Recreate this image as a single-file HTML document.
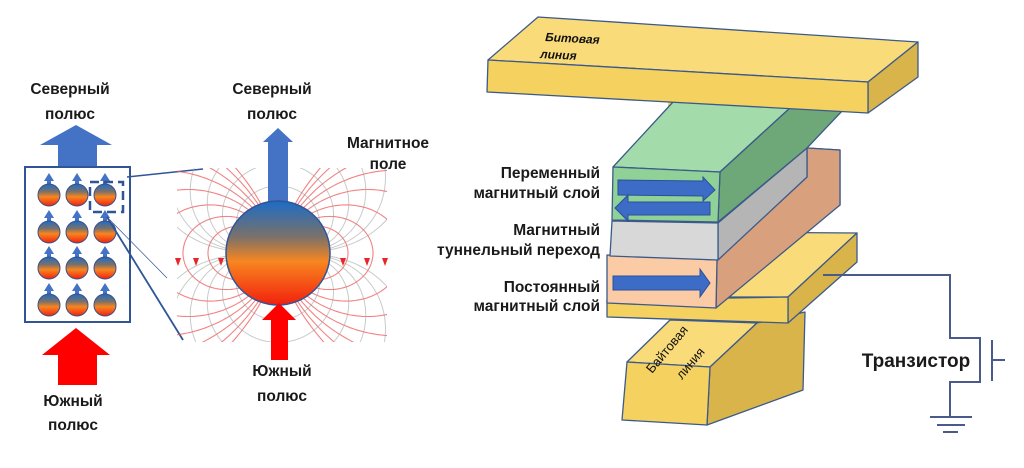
<!DOCTYPE html>
<html><head><meta charset="utf-8"><style>
html,body{margin:0;padding:0;background:#fff;}
svg{display:block}
.lb{font-family:"Liberation Sans","DejaVu Sans",sans-serif;font-weight:bold;fill:#1a1a1a;}
</style></head><body>
<svg id="s" width="1024" height="468" viewBox="0 0 1024 468" xmlns="http://www.w3.org/2000/svg">
<defs>
<linearGradient id="g" x1="0" y1="0" x2="0" y2="1">
<stop offset="0" stop-color="#1c6cc6"/><stop offset="0.35" stop-color="#7d7168"/><stop offset="0.58" stop-color="#f7861f"/><stop offset="1" stop-color="#f2200e"/>
</linearGradient>
<clipPath id="fc"><rect x="177" y="168" width="210" height="174"/></clipPath>
</defs>
<rect width="1024" height="468" fill="#fff"/>

<!-- LEFT PANEL -->
<text class="lb" x="70" y="94" font-size="15.5" text-anchor="middle">Северный</text>
<text class="lb" x="70" y="119" font-size="15.5" text-anchor="middle">полюс</text>
<polygon points="40,145 76,125 112,145 97,145 97,167 58,167 58,145" fill="#4472c4"/>
<rect x="25" y="167" width="105" height="155" fill="#fff" stroke="#2f5597" stroke-width="2"/>
<g id="cells"></g>
<rect x="90" y="182" width="33" height="30" fill="none" stroke="#2f5597" stroke-width="2.5" stroke-dasharray="9,5"/>
<polygon points="42,355 76,328 110,355 97,355 97,385 58,385 58,355" fill="#ff0000"/>
<text class="lb" x="73" y="406" font-size="15.5" text-anchor="middle">Южный</text>
<text class="lb" x="73" y="430" font-size="15.5" text-anchor="middle">полюс</text>

<line x1="127" y1="177" x2="203" y2="169" stroke="#2f5597" stroke-width="1.5"/>
<line x1="107" y1="217" x2="167" y2="278" stroke="#2f5597" stroke-width="0.7"/>
<line x1="107" y1="217" x2="183" y2="340" stroke="#2f5597" stroke-width="1.8"/>

<g id="field" clip-path="url(#fc)"></g>
<g fill="#e8262a">
<polygon points="175,258 181,258 178,266"/><polygon points="193,258 199,258 196,266"/><polygon points="218,258 224,258 221,266"/>
<polygon points="340,258 346,258 343,266"/><polygon points="364,258 370,258 367,266"/><polygon points="382,258 388,258 385,266"/>
</g>
<polygon points="263,142 278,128 293,142 288,142 288,205 268,205 268,142" fill="#4472c4"/>
<circle cx="278" cy="253" r="52" fill="url(#g)" stroke="#2f5597" stroke-width="1.5"/>
<polygon points="262,320 279,303 296,320 288,320 288,360 271,360 271,320" fill="#ff0000"/>
<text class="lb" x="272" y="94" font-size="15.5" text-anchor="middle">Северный</text>
<text class="lb" x="272" y="119" font-size="15.5" text-anchor="middle">полюс</text>
<text class="lb" x="388" y="148" font-size="15.5" text-anchor="middle">Магнитное</text>
<text class="lb" x="388" y="169" font-size="15.5" text-anchor="middle">поле</text>
<text class="lb" x="282" y="376" font-size="15.5" text-anchor="middle">Южный</text>
<text class="lb" x="282" y="401" font-size="15.5" text-anchor="middle">полюс</text>

<!-- RIGHT PANEL -->
<g stroke="#3b5a8a" stroke-width="1.3" stroke-linejoin="round">
<polygon points="670,320 757,323 710,367 627,362" fill="#fadb7a"/>
<polygon points="710,367 757,323 805,312 803,390 707,425" fill="#d9b44a"/>
<polygon points="627,362 710,367 707,425 622,420" fill="#f5d160"/>
<polygon points="700,232 857,233 788,297 700,297" fill="#fadb7a"/>
<polygon points="788,297 857,233 857,262 788,323" fill="#d9b44a"/>
<polygon points="607,300 788,297 788,323 607,317" fill="#f5d160"/>
<polygon points="807,148 840,150 840,205 807,230" fill="#f8cba6"/>
<polygon points="717,260 807,177 807,148 840,150 840,205 716,308" fill="#d9a07e"/>
<polygon points="607,255 717,260 716,308 607,303" fill="#fbcba5"/>
<polygon points="718,223 807,148 807,177 718,260" fill="#b5b5b5"/>
<polygon points="612,221 718,223 718,260 610,256" fill="#d8d8d8"/>
<polygon points="668,95 700,95 690,115 668,115" fill="#f5d160" stroke="none"/>
<polygon points="613,167 720,172 790,108 673,102" fill="#a3dbaa"/>
<polygon points="720,172 790,108 843,110 807,148 718,222" fill="#6fa878"/>
<polygon points="613,167 720,172 718,222 612,220" fill="#8fd197"/>
<polygon points="538,17 918,42 868,82 488,60" fill="#fadb7a"/>
<polygon points="868,82 918,42 918,77 868,113" fill="#d9b44a"/>
<polygon points="488,60 868,82 868,113 487,92" fill="#f5d160"/>
</g>
<g fill="#3d6cc6" stroke="#2a4f9a" stroke-width="1">
<polygon points="618,180 703,181 703,177 715,190 703,201 703,196 618,195"/>
<polygon points="710,202 628,202 628,195 615,208 628,221 628,215 710,215"/>
<polygon points="613,276 700,276 700,269 710,283 700,297 700,290 613,290"/>
</g>
<text x="545" y="41" font-family="Liberation Sans,sans-serif" font-style="italic" font-weight="bold" font-size="12" fill="#111" transform="rotate(3 545 41)">Битовая</text>
<text x="540" y="58" font-family="Liberation Sans,sans-serif" font-style="italic" font-weight="bold" font-size="12" fill="#111" transform="rotate(3 540 58)">линия</text>
<text x="652" y="374" font-family="Liberation Sans,sans-serif" font-size="13" fill="#111" transform="rotate(-50 652 374)">Байтовая</text>
<text x="682" y="380" font-family="Liberation Sans,sans-serif" font-size="13" fill="#111" transform="rotate(-50 682 380)">линия</text>

<g class="lb" font-size="15.5" text-anchor="end">
<text x="600" y="178">Переменный</text>
<text x="600" y="198">магнитный слой</text>
<text x="600" y="235">Магнитный</text>
<text x="600" y="255">туннельный переход</text>
<text x="600" y="292">Постоянный</text>
<text x="600" y="311">магнитный слой</text>
</g>

<g stroke="#4a5a8a" stroke-width="2" fill="none">
<polyline points="823,275 950,275 950,338 980,338 980,382 950,382 950,417"/>
<line x1="930" y1="417" x2="972" y2="417"/>
<line x1="937" y1="425" x2="965" y2="425"/>
<line x1="943" y1="432" x2="958" y2="432"/>
<line x1="992" y1="340" x2="992" y2="381"/>
<line x1="992" y1="360" x2="1005" y2="360"/>
</g>
<text class="lb" x="916" y="367" font-size="19" text-anchor="middle" fill="#111">Транзистор</text>
</svg>
<script>
(function(){
var NS="http://www.w3.org/2000/svg";
var cells=document.getElementById("cells");
var xs=[49,77,105], ys=[195,232,268,305];
ys.forEach(function(y){xs.forEach(function(x){
 var a=document.createElementNS(NS,"polygon");
 a.setAttribute("points",(x-5)+","+(y-14)+" "+x+","+(y-22)+" "+(x+5)+","+(y-14)+" "+(x+2)+","+(y-14)+" "+(x+2)+","+(y-9)+" "+(x-2)+","+(y-9)+" "+(x-2)+","+(y-14));
 a.setAttribute("fill","#4472c4");cells.appendChild(a);
 var c=document.createElementNS(NS,"circle");
 c.setAttribute("cx",x);c.setAttribute("cy",y);c.setAttribute("r",11);
 c.setAttribute("fill","url(#g)");c.setAttribute("stroke","#3a4f8a");c.setAttribute("stroke-width","1");
 cells.appendChild(c);
});});
var f=document.getElementById("field");
var cx=278,cy=253;
function add(d,col,w,op){var p=document.createElementNS(NS,"path");p.setAttribute("d",d);p.setAttribute("fill","none");p.setAttribute("stroke",col);p.setAttribute("stroke-width",w);p.setAttribute("opacity",op);f.appendChild(p);}
[70,95,125,165,215,280,370,480].forEach(function(k){
 [1,-1].forEach(function(s){
  var d="";for(var i=0;i<=200;i++){var t=Math.PI*i/200;var r=k*Math.sin(t)*Math.sin(t);
   d+=(i?"L":"M")+(cx+s*r*Math.sin(t)).toFixed(1)+","+(cy-r*Math.cos(t)).toFixed(1);}
  add(d,"#f0585a",1.1,0.75);
 });
});
[4500,8000,13000,20000,30000,44000].forEach(function(c){
 [1,-1].forEach(function(v){[1,-1].forEach(function(s){
  var d="";for(var i=0;i<=100;i++){var t=(Math.PI/2)*i/100;var r=Math.sqrt(c*Math.cos(t));
   d+=(i?"L":"M")+(cx+s*r*Math.sin(t)).toFixed(1)+","+(cy-v*r*Math.cos(t)).toFixed(1);}
  add(d,"#9aa0a0",1,0.55);
 });});
});
})();
</script>
</body></html>
